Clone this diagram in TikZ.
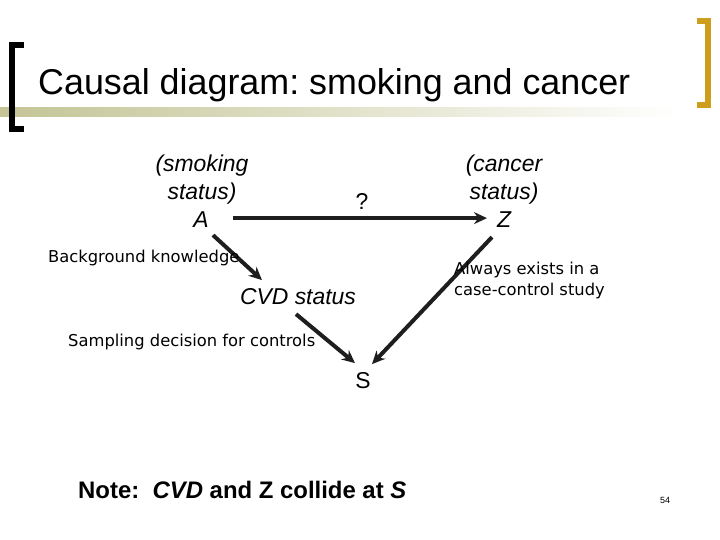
\documentclass[tikz,border=0pt]{standalone}
\usepackage{fontspec}
\setmainfont{Liberation Sans}
\newfontfamily\handfont{DejaVu Sans}
\usetikzlibrary{arrows.meta,positioning}
\definecolor{gold}{RGB}{204,158,28}
\definecolor{khaki}{RGB}{196,196,150}
\definecolor{ink}{RGB}{30,30,30}
\frenchspacing

\begin{document}
\begin{tikzpicture}[x=1bp, y=-1bp,
    arr/.style={-{Stealth[length=13bp,width=12bp]}, line width=4bp, draw=ink},
    var/.style={font=\fontsize{23}{28.5}\selectfont\itshape, inner sep=0pt, align=center},
    hand/.style={font=\fontsize{16.4}{21}\selectfont\handfont, inner sep=0pt, align=left, anchor=base west}]
    \useasboundingbox (0,0) rectangle (720,540);

    % header
    \shade[left color=khaki, right color=white] (0,108) rectangle (680,117);
    \draw[line width=6bp] (24,45) -- (12,45) -- (12,129) -- (24,129);
    \draw[gold, line width=6bp] (697,21) -- (708,21) -- (708,105) -- (697,105);
    \node[anchor=base west, inner sep=0pt, font=\fontsize{36}{40}\selectfont] (title) at (38,95) {Causal diagram: smoking and cancer};

    % variables
    \node[var, anchor=base] (A) at (201,228) {A};
    \node[var, anchor=base] (smk) at (202,200) {(smoking\\status)};
    \node[var, anchor=base] (Z) at (504,228) {Z};
    \node[var, anchor=base] (cnc) at (504,200) {(cancer\\status)};
    \node[var, anchor=base, font=\fontsize{23}{28}\selectfont] (q) at (362,210) {?};
    \node[var, anchor=base] (CVD) at (298,304) {CVD status};
    \node[var, anchor=base, font=\fontsize{23}{28}\selectfont] (S) at (363,388) {S};

    % arrows
    \draw[arr] ([shift={(32,-2)}]A.center) -- ([shift={(-17,-2)}]Z.center);
    \draw[arr] ([shift={(12,15)}]A.center) -- ([shift={(-36,-16)}]CVD.center);
    \draw[arr] ([shift={(-2,18)}]CVD.center) -- ([shift={(-8,-17)}]S.center);
    \draw[arr] ([shift={(-12,17)}]Z.center) -- ([shift={(9,-16)}]S.center);

    % notes
    \node[hand] (bk) at (48,263) {Background knowledge};
    \node[hand] (ae) at (454,295) {Always exists in a\\case-control study};
    \node[hand] (sd) at (68,346) {Sampling decision for controls};

    \node[anchor=base west, inner sep=0pt, font=\fontsize{24}{28}\selectfont\bfseries] (nt) at (78,498) {Note:\ \ \textit{CVD} and Z collide at \textit{S}};
    \node[anchor=base, inner sep=0pt, font=\fontsize{9}{10}\selectfont] (pg) at (665,503) {54};
\end{tikzpicture}
\end{document}
